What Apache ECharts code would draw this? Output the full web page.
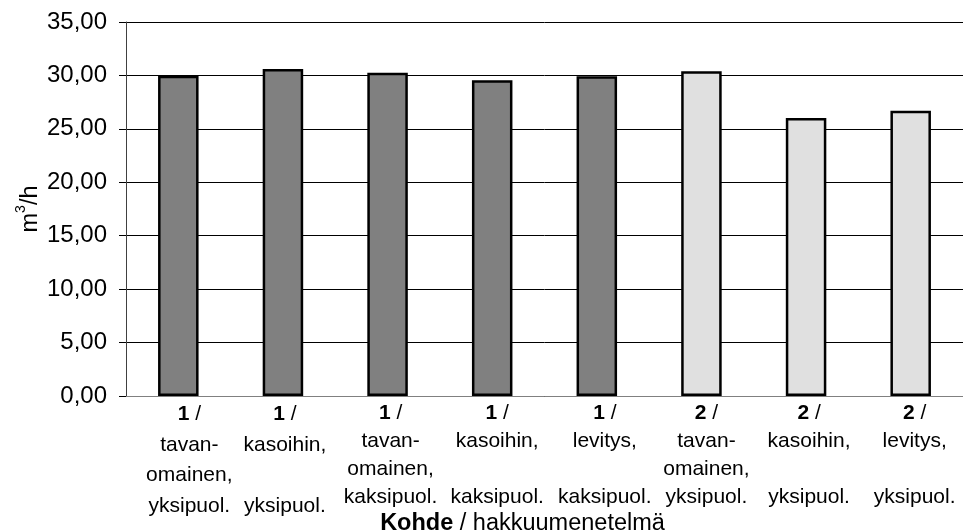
<!DOCTYPE html>
<html>
<head>
<meta charset="utf-8">
<script src="https://cdn.jsdelivr.net/npm/echarts@6/dist/echarts.min.js"></script>
<style>
  html, body { margin: 0; padding: 0; background: #fff; }
  #chart { width: 963px; height: 530px; }
</style>
</head>
<body>
<div id="chart"></div>
<script>
// Harvest productivity by site (Kohde) and harvesting method
const sites = [1, 1, 1, 1, 1, 2, 2, 2];
const methods = [
  'tavan-\nomainen,\nyksipuol.',
  'kasoihin,\n\nyksipuol.',
  'tavan-\nomainen,\nkaksipuol.',
  'kasoihin,\n\nkaksipuol.',
  'levitys,\n\nkaksipuol.',
  'tavan-\nomainen,\nyksipuol.',
  'kasoihin,\n\nyksipuol.',
  'levitys,\n\nyksipuol.'
];
const productivity = [29.98, 30.60, 30.26, 29.54, 29.92, 30.38, 26.01, 26.70];
const yTicks = { min: 0, max: 35, step: 5 };

const siteColors = { 1: '#808080', 2: '#e0e0e0' };
const FONT = '"Liberation Sans", Arial, sans-serif';

// label layout: line spacing and horizontal nudge (px) of each category label
const labelLineHeight = [30.5, 30.5, 28, 28, 28, 28, 28, 28];
const labelNudge = [11, 2, 3, 5, 8, 5, 3, 4];

const categories = methods.map((m, i) => String(i));

// one set of rich styles per category label
const labelRich = {};
labelLineHeight.forEach((lh, i) => {
  labelRich['b' + i] = { fontWeight: 'bold', fontSize: 21, fontFamily: FONT, color: '#000', lineHeight: lh };
  labelRich['n' + i] = { fontSize: 21, fontFamily: FONT, color: '#000', lineHeight: lh };
  labelRich['p' + i] = { fontSize: 21, fontFamily: FONT, color: '#000', lineHeight: lh, width: 2 * labelNudge[i] };
});

function categoryLabel(value) {
  const i = Number(value);
  const pre = labelNudge[i] > 0 ? '{p' + i + '|}' : '';
  const lines = methods[i].split('\n').map(l => pre + '{n' + i + '|' + (l === '' ? ' ' : l) + '}');
  return pre + '{b' + i + '|' + sites[i] + '}{n' + i + '| /}\n' + lines.join('\n');
}

const chart = echarts.init(document.getElementById('chart'), null, { renderer: 'canvas' });

chart.setOption({
  animation: false,
  backgroundColor: '#ffffff',
  grid: { left: 126, right: 0, top: 22, bottom: 134, containLabel: false, outerBoundsMode: 'none' },
  xAxis: {
    type: 'category',
    data: categories,
    axisLine: { show: true, lineStyle: { color: '#808080', width: 1 } },
    axisTick: { show: false },
    splitLine: { show: false },
    axisLabel: {
      interval: 0,
      margin: 3,
      formatter: categoryLabel,
      color: '#000',
      fontFamily: FONT,
      fontSize: 21,
      align: 'center',
      rich: labelRich
    },
    name: '{k|Kohde} / hakkuumenetelmä',
    nameLocation: 'middle',
    nameGap: 116,
    nameMoveOverlap: false,
    nameTextStyle: {
      fontFamily: FONT,
      fontSize: 23.5,
      color: '#000',
      lineHeight: 24,
      padding: [0, 44, 0, 0],
      rich: {
        k: { fontFamily: FONT, fontSize: 23.5, fontWeight: 'bold', color: '#000', lineHeight: 24 }
      }
    }
  },
  yAxis: {
    type: 'value',
    min: yTicks.min,
    max: yTicks.max,
    interval: yTicks.step,
    axisLine: { show: true, lineStyle: { color: '#404040', width: 1 } },
    axisTick: { show: true, inside: false, length: 7, lineStyle: { color: '#000', width: 1 } },
    splitLine: { show: true, lineStyle: { color: '#000', width: 1 } },
    axisLabel: {
      margin: 19,
      color: '#000',
      fontFamily: FONT,
      fontSize: 24,
      formatter: v => v.toFixed(2).replace('.', ',')
    },
    name: 'm{sup|3}/h',
    nameLocation: 'middle',
    nameGap: 78,
    nameMoveOverlap: false,
    nameTextStyle: {
      fontFamily: FONT,
      fontSize: 23.5,
      color: '#000',
      lineHeight: 34,
      rich: {
        sup: { fontFamily: FONT, fontSize: 14, color: '#000', verticalAlign: 'top', lineHeight: 14 }
      }
    }
  },
  series: [{
    type: 'bar',
    barWidth: 40.5,
    data: productivity.map((v, i) => ({
      value: v,
      itemStyle: { color: siteColors[sites[i]] }
    })),
    itemStyle: { borderColor: '#000', borderWidth: 2.5 },
    emphasis: { disabled: true }
  }]
});
</script>
</body>
</html>
